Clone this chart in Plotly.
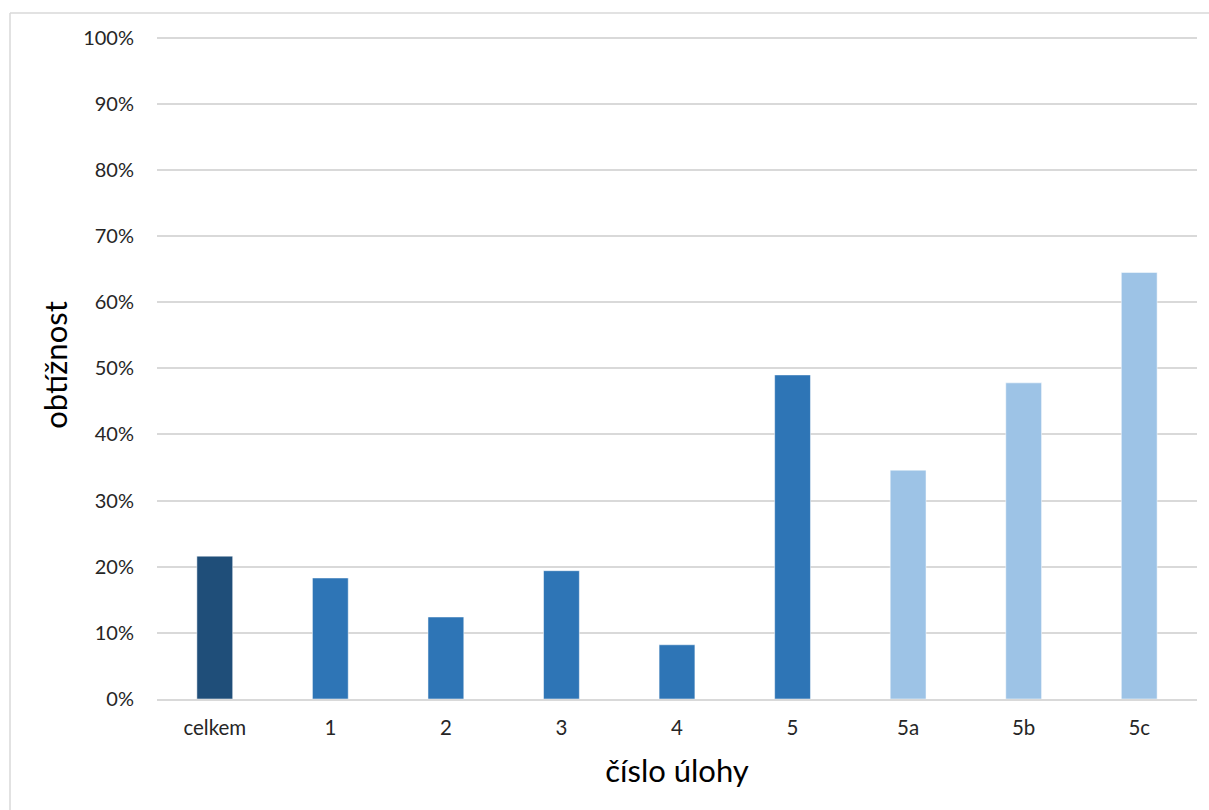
import plotly.graph_objects as go

# task labels and difficulty (share of lost points)
categories = ["celkem", "1", "2", "3", "4", "5", "5a", "5b", "5c"]
difficulty = [0.216, 0.183, 0.124, 0.194, 0.082, 0.490, 0.346, 0.478, 0.645]
bar_colors = ["#1F4E79", "#2E75B6", "#2E75B6", "#2E75B6", "#2E75B6", "#2E75B6",
              "#9DC3E6", "#9DC3E6", "#9DC3E6"]
y_ticks = [i / 10 for i in range(11)]

FONT = "Lato"
W, H = 1209, 810
L, R, T, B = 157, 12, 30.5, 111
Y_MAX = 1.01

fig = go.Figure(
    go.Bar(
        x=categories,
        y=difficulty,
        marker=dict(color=bar_colors, line=dict(color="rgba(255,255,255,0.5)", width=1)),
        hoverinfo="x+y",
    )
)

# light frame around the chart area (top and left edges visible)
pw, ph = W - L - R, H - T - B
fx0 = (10 - L) / pw
fy1 = 1 + (T - 12.5) / ph
fy0 = -(B + 5) / ph
fx1 = 1 + (R + 5) / pw
fig.add_shape(type="line", xref="paper", yref="paper", x0=fx0, x1=fx1, y0=fy1, y1=fy1,
              line=dict(color="#D9D9D9", width=1.5), layer="below")
fig.add_shape(type="line", xref="paper", yref="paper", x0=fx0, x1=fx0, y0=fy0, y1=fy1,
              line=dict(color="#D9D9D9", width=1.5), layer="below")

fig.update_layout(
    width=W,
    height=H,
    margin=dict(l=L, r=R, t=T, b=B, autoexpand=False),
    paper_bgcolor="white",
    plot_bgcolor="white",
    bargap=0.69,
    showlegend=False,
    font=dict(family=FONT, color="#262626"),
)

fig.update_xaxes(
    type="category",
    showgrid=False,
    showline=True,
    linecolor="#D9D9D9",
    linewidth=1.5,
    ticks="",
    tickfont=dict(size=20.5, family=FONT, color="#262626"),
    ticklabelstandoff=10,
    title=dict(text="číslo úlohy", font=dict(size=31, family=FONT, color="#000000"), standoff=22),
)

fig.update_yaxes(
    range=[0, Y_MAX],
    tickvals=y_ticks,
    tickformat=".0%",
    showgrid=True,
    gridcolor="#D9D9D9",
    gridwidth=1.5,
    zeroline=False,
    showline=False,
    ticks="",
    tickfont=dict(size=20, family=FONT, color="#262626"),
    ticklabelstandoff=22,
    title=dict(text="obtížnost", font=dict(size=31, family=FONT, color="#000000"), standoff=6),
)

fig.write_html("out.html")
